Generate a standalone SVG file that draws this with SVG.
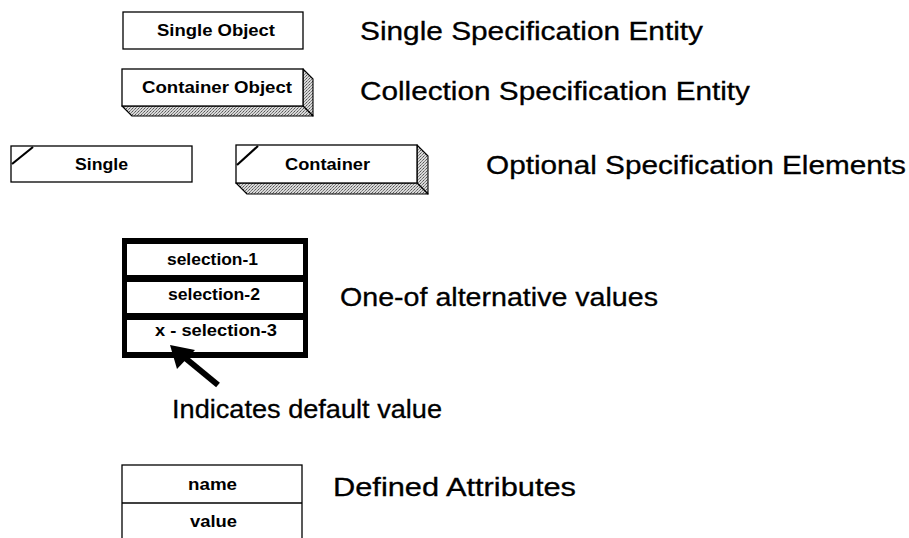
<svg xmlns="http://www.w3.org/2000/svg" width="909" height="538" viewBox="0 0 909 538">
<defs>
<pattern id="shade" width="3" height="3" patternUnits="userSpaceOnUse">
<rect width="3" height="3" fill="#d8d8d8"/>
<rect x="0" y="0" width="1" height="1" fill="#555"/>
<rect x="2" y="1" width="1" height="1" fill="#777"/>
<rect x="1" y="2" width="1" height="1" fill="#888"/>
</pattern>
</defs>
<style>
.box{fill:#fff;stroke:#000;stroke-width:1.3}
.side{fill:url(#shade);stroke:#000;stroke-width:1.1;stroke-linejoin:round}
.sm{font-family:"Liberation Sans",Arial,sans-serif;font-size:16px;font-weight:bold;fill:#000}
.lg{font-family:"Liberation Sans",Arial,sans-serif;font-size:25px;fill:#000;stroke:#000;stroke-width:0.3}
.slash{stroke:#000;stroke-width:2.2;fill:none}
.cell{fill:#fff}
</style>
<rect width="909" height="538" fill="#fff"/>

<g id="single-object">
<rect class="box" x="123" y="12" width="180" height="37"/>
<text class="sm" x="157" y="36" textLength="118" lengthAdjust="spacingAndGlyphs">Single Object</text>
</g>
<g id="label-single-spec">
<text class="lg" x="360" y="40" textLength="343" lengthAdjust="spacingAndGlyphs">Single Specification Entity</text>
</g>

<g id="container-object">
<polygon class="side" points="303,69 313,79 313,116 303,106"/>
<polygon class="side" points="122,106 303,106 313,116 132,116"/>
<rect class="box" x="122" y="69" width="181" height="37"/>
<text class="sm" x="142" y="93" textLength="150" lengthAdjust="spacingAndGlyphs">Container Object</text>
</g>
<g id="label-collection-spec">
<text class="lg" x="360" y="100" textLength="390" lengthAdjust="spacingAndGlyphs">Collection Specification Entity</text>
</g>

<g id="optional-single">
<rect class="box" x="11" y="146" width="181" height="36"/>
<line class="slash" x1="12" y1="164" x2="33" y2="147"/>
<text class="sm" x="75" y="170" textLength="53" lengthAdjust="spacingAndGlyphs">Single</text>
</g>
<g id="optional-container">
<polygon class="side" points="417,145 428,156 428,194 417,183"/>
<polygon class="side" points="236,183 417,183 428,194 247,194"/>
<rect class="box" x="236" y="145" width="181" height="38"/>
<line class="slash" x1="237" y1="165" x2="258" y2="146"/>
<text class="sm" x="285" y="170" textLength="85" lengthAdjust="spacingAndGlyphs">Container</text>
</g>
<g id="label-optional">
<text class="lg" x="486" y="174" textLength="420" lengthAdjust="spacingAndGlyphs">Optional Specification Elements</text>
</g>

<g id="one-of">
<rect x="122" y="238" width="186" height="120" fill="#000"/>
<rect class="cell" x="127" y="244" width="176" height="31"/>
<rect class="cell" x="127" y="282" width="176" height="31"/>
<rect class="cell" x="127" y="320" width="176" height="32"/>
<text class="sm" x="167" y="265" textLength="91" lengthAdjust="spacingAndGlyphs">selection-1</text>
<text class="sm" x="168" y="300" textLength="92" lengthAdjust="spacingAndGlyphs">selection-2</text>
<text class="sm" x="155" y="336" textLength="122" lengthAdjust="spacingAndGlyphs">x - selection-3</text>
</g>
<g id="label-one-of">
<text class="lg" x="340" y="306" textLength="318" lengthAdjust="spacingAndGlyphs">One-of alternative values</text>
</g>

<g id="connectors">
<line x1="184" y1="357" x2="218" y2="385" stroke="#000" stroke-width="6"/>
<polygon points="170,345 177,369 195,350" fill="#000"/>
</g>
<g id="label-default">
<text class="lg" x="172" y="418" textLength="270" lengthAdjust="spacingAndGlyphs">Indicates default value</text>
</g>

<g id="attributes">
<rect class="box" x="122" y="465" width="180" height="80"/>
<line x1="122" y1="503" x2="302" y2="503" stroke="#000" stroke-width="1.3"/>
<text class="sm" x="188" y="490" textLength="49" lengthAdjust="spacingAndGlyphs">name</text>
<text class="sm" x="190" y="527" textLength="47" lengthAdjust="spacingAndGlyphs">value</text>
</g>
<g id="label-attributes">
<text class="lg" x="333" y="496" textLength="243" lengthAdjust="spacingAndGlyphs">Defined Attributes</text>
</g>
</svg>
